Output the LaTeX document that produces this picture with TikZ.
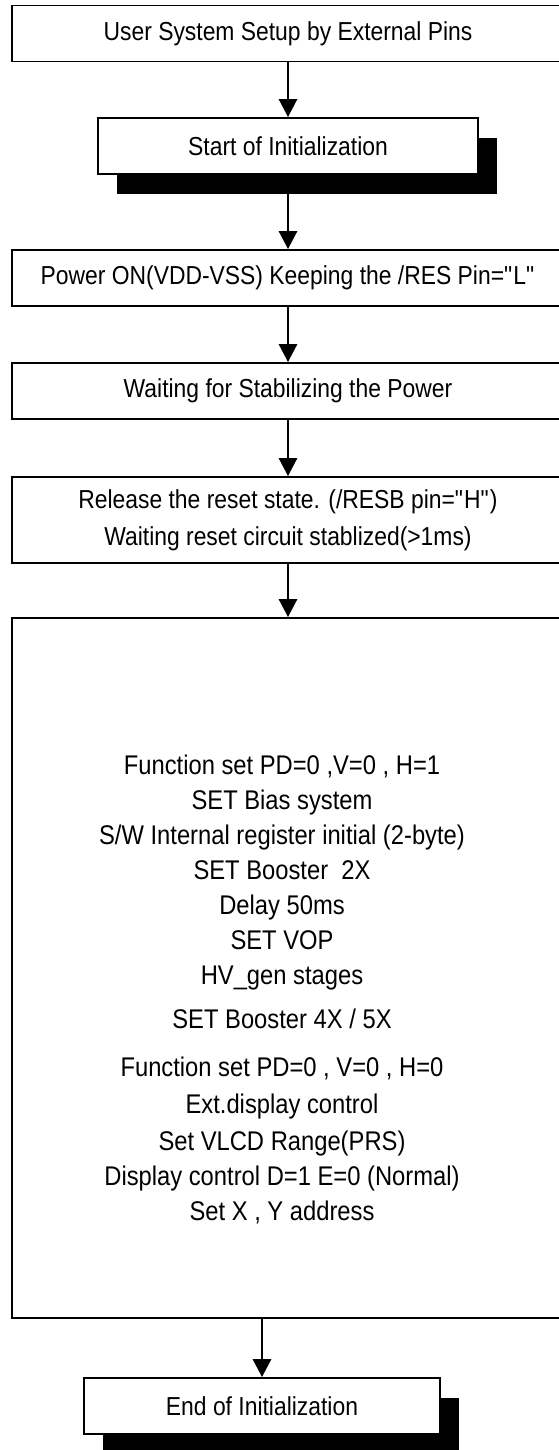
\documentclass[tikz,border=0pt]{standalone}
\usepackage{fontspec}
\setmainfont{Liberation Sans}[FakeStretch=0.88]
\usetikzlibrary{arrows.meta,shadows}

\tikzset{
  stepbox/.style={draw, line width=1.8pt, fill=white, minimum width=552pt,
    minimum height=56pt, inner sep=0pt, align=center,
    font=\fontsize{26}{37}\selectfont},
  shadowbox/.style={stepbox, minimum width=380pt,
    drop shadow={shadow xshift=19pt, shadow yshift=-20pt, fill=black, opacity=1}},
  flow/.style={line width=2.8pt, -{Triangle[width=18pt,length=18pt]}}
}

\begin{document}
\begin{tikzpicture}[x=1pt, y=-1pt]
\useasboundingbox (0,0) rectangle (559,1450);
\clip (0,0) rectangle (559,1450);

\coordinate (P1) at (288,33.5);
\coordinate (P2) at (288,146);
\coordinate (P3) at (288,278);
\coordinate (P4) at (288,391);
\coordinate (P5) at (288,520);
\coordinate (P6) at (288,968);
\coordinate (P7) at (262,1406);

\node [stepbox] (pins) at (P1) {User System Setup by External Pins};
\node [shadowbox] (start) at (P2) {Start of Initialization};
\node [stepbox] (power) at (P3)
  {Power ON(VDD-VSS) Keeping the /RES Pin=\textquotedbl L\textquotedbl};
\node [stepbox] (stable) at (P4) {Waiting for Stabilizing the Power};
\node [stepbox, minimum height=86pt] (release) at (P5)
  {Release the reset state. (/RESB pin=\textquotedbl H\textquotedbl)\\
   Waiting reset circuit stablized(>1ms)};
\node [stepbox, minimum height=700pt] (init) at (P6) {};
\node [align=center, font=\fontsize{27}{35}\selectfont] (cmds) at (282,989)
  {Function set PD=0 ,V=0 , H=1\\
   SET Bias system\\
   S/W Internal register initial (2-byte)\\
   SET Booster\ \ 2X\\
   Delay 50ms\\
   SET VOP\\
   HV\_gen stages\\[9pt]
   SET Booster 4X / 5X\\[13pt]
   Function set PD=0 , V=0 , H=0\\[2pt]
   Ext.display control\\[2pt]
   Set VLCD Range(PRS)\\
   Display control D=1 E=0 (Normal)\\
   Set X , Y address};
\node [shadowbox, minimum width=356pt] (done) at (P7) {End of Initialization};

\draw [flow] (pins) -- (start);
\draw [flow] (start) -- (power);
\draw [flow] (power) -- (stable);
\draw [flow] (stable) -- (release);
\draw [flow] (release) -- (init);
\draw [flow] (init.south -| done.north) -- (done);

\end{tikzpicture}
\end{document}
